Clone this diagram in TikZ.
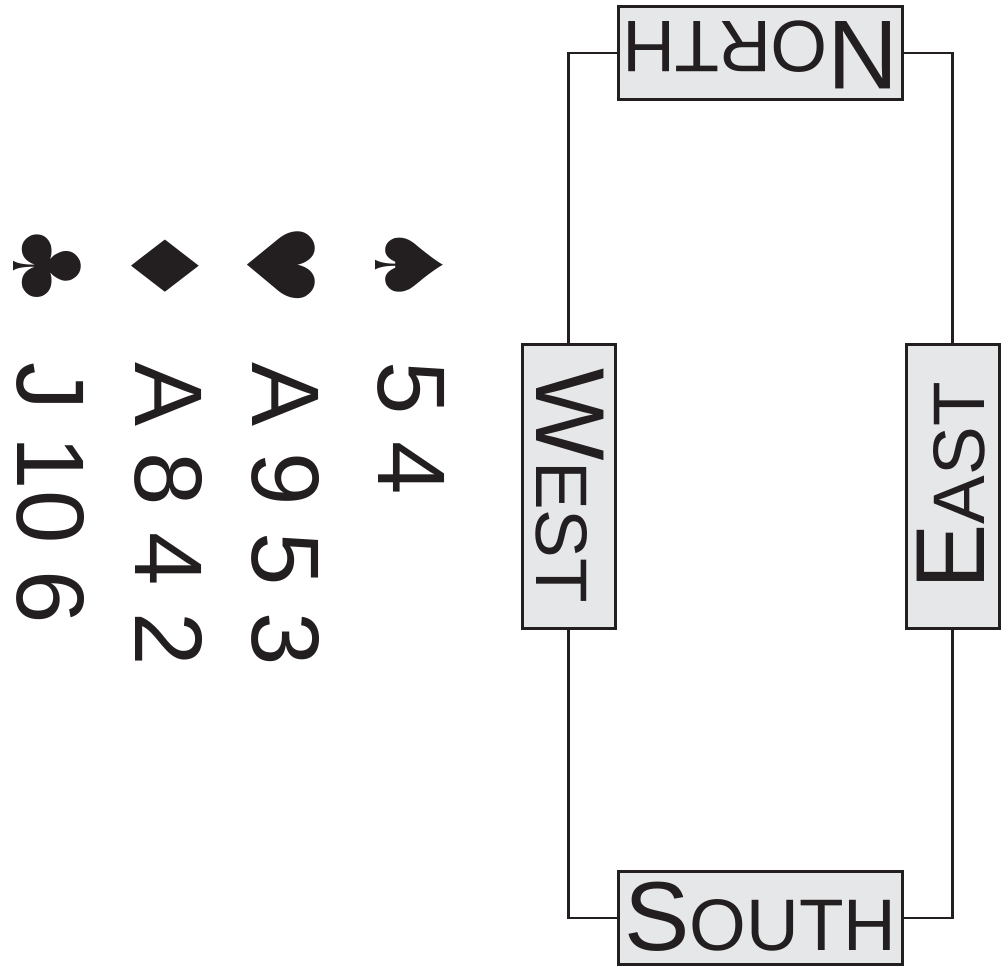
\documentclass[tikz,border=0pt]{standalone}
\usepackage{fontspec}
\setmainfont{Liberation Sans}
\newfontfamily\suitfont{DejaVu Sans}
\definecolor{ink}{HTML}{231F20}
\definecolor{boxfill}{HTML}{E6E7E8}
\newcommand{\seatname}[2]{{\fontsize{98}{98}\selectfont #1}{\fontsize{73}{73}\selectfont #2}}
\tikzset{
  seat/.style={draw=ink, line width=3pt, fill=boxfill, text=ink, inner sep=0pt,
    minimum width=284pt, minimum height=93pt, text height=70pt, text depth=6pt},
  link/.style={draw=ink, line width=2.2pt},
  rank/.style={rotate=-90, anchor=base west, inner sep=0pt, text=ink,
    font=\fontsize{96}{96}\selectfont},
  suit/.style={rotate=-90, anchor=center, inner sep=0pt, text=ink,
    font=\suitfont\fontsize{93}{93}\selectfont}
}
\begin{document}
\begin{tikzpicture}[x=1pt,y=-1pt]
\useasboundingbox (0,0) rectangle (1005,972);
% seats
\node[seat, rotate=180] (N) at (760.5,53) {\seatname{N}{ORTH}};
\node[seat] (S) at (760.5,918) {\seatname{S}{OUTH}};
\node[seat, rotate=-90] (W) at (568.5,486) {\seatname{W}{EST}};
\node[seat, rotate=90] (E) at (952.5,486) {\seatname{E}{AST}};
% connectors (anchors follow each node's rotation)
\draw[link] (N.east) -| (W.west);
\draw[link] (N.west) -| (E.east);
\draw[link] (S.west) -| (W.east);
\draw[link] (S.east) -| (E.west);
% suits
\node[suit] (sp) at (409,265) {♠};
\node[suit] (he) at (281,265) {♥};
\node[suit] (di) at (165,266) {♦};
\node[suit] (cl) at (47,266) {♣};
% ranks
\node[rank] (spr) at (378,361) {5 4};
\node[rank] (her) at (252,362) {A 9 5 3};
\node[rank] (dir) at (135,362) {A 8 4 2};
\node[rank] (clr) at (17,362) {J 10 6};
\end{tikzpicture}
\end{document}
